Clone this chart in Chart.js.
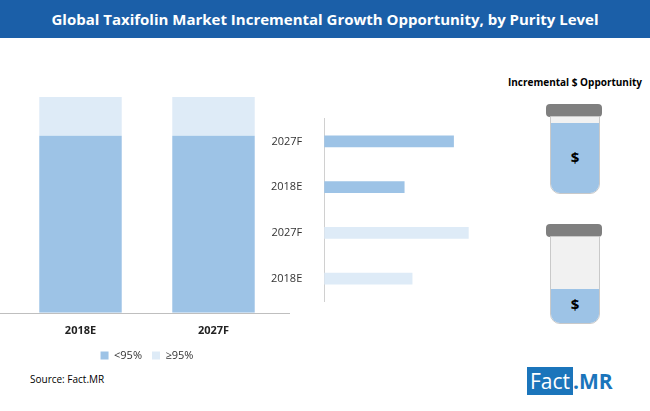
<!DOCTYPE html>
<html><head><meta charset="utf-8">
<script src="https://cdn.jsdelivr.net/npm/chart.js@4"></script>
<style>
body{margin:0;width:650px;height:411px;background:#fff;position:relative;overflow:hidden;font-family:"Open Sans",sans-serif}
#title{position:absolute;left:0;top:0;width:650px;height:38px;background:#1b5fa8;color:#fff;font:bold 15px "Open Sans",sans-serif;text-align:center;line-height:38px}
.abs{position:absolute}
.jar{position:absolute;left:550px;width:48px;border:1px solid #c9c9c9;border-radius:0 0 10px 10px;background:#f1f1f1;overflow:hidden}
.cap{position:absolute;left:546px;width:56px;height:13px;background:#7f7f7f;border-radius:4px}
.liq{position:absolute;left:0;bottom:0;width:100%;background:#9dc3e6}
.dol{position:absolute;left:0;width:100%;text-align:center;font:bold 15px "Open Sans",sans-serif;color:#000}
</style></head><body>
<div id="title">Global Taxifolin Market Incremental Growth Opportunity, by Purity Level</div>
<canvas id="c1" class="abs" style="left:0;top:88px;width:294px;height:283px" width="294" height="283"></canvas>
<canvas id="c2" class="abs" style="left:257px;top:98px;width:240px;height:224px" width="240" height="224"></canvas>
<div class="abs" style="left:505px;top:75px;width:140px;text-align:center;font:bold 10px 'Open Sans',sans-serif">Incremental $ Opportunity</div>
<div class="cap" style="top:104px"></div>
<div class="jar" style="top:116px;height:76px"><div class="liq" style="height:70px"></div><div class="dol" style="top:30px">$</div></div>
<div class="cap" style="top:224px"></div>
<div class="jar" style="top:236px;height:86px"><div class="liq" style="height:34px"></div><div class="dol" style="top:57px">$</div></div>
<div class="abs" style="left:30px;top:372px;font:10px 'Open Sans',sans-serif;color:#000">Source: Fact.MR</div>
<div class="abs" style="left:527px;top:367px;font:21px 'Open Sans',sans-serif"><span style="background:#1b75bb;color:#fff;padding:0 3px">Fact</span><span style="color:#1b75bb;font-weight:bold">.MR</span></div>
<script>
const categories=["2018E","2027F"];
const lowPurity=[82,82];
const highPurity=[18,18];
const seriesNames=["<95%","≥95%"];
const hbarLabels=["2027F","2018E","2027F","2018E"];
const hbarValues=[131,81,146,89];
const dark="#9dc3e6", light="#deebf7";
const hbarColors=[dark,dark,light,light];

const baseline={id:"baseline",afterDraw(c){const a=c.chartArea,x=c.ctx;x.save();x.strokeStyle="#bfbfbf";x.lineWidth=1;x.beginPath();x.moveTo(0,Math.round(a.bottom)+0.5);x.lineTo(a.right+10,Math.round(a.bottom)+0.5);x.stroke();x.restore();}};

new Chart(document.getElementById("c1"),{type:"bar",
data:{labels:categories,datasets:[
{label:seriesNames[0],data:lowPurity,backgroundColor:dark,barPercentage:0.62,categoryPercentage:1},
{label:seriesNames[1],data:highPurity,backgroundColor:light,barPercentage:0.62,categoryPercentage:1}]},
options:{responsive:false,animation:false,layout:{padding:{top:9,left:14,right:14}},
plugins:{legend:{position:"bottom",labels:{boxWidth:8,boxHeight:8,font:{size:11,family:"Open Sans"},color:"#333"}},tooltip:{enabled:false}},
scales:{x:{stacked:true,grid:{display:false},border:{display:false},ticks:{color:"#222",font:{size:11,weight:"bold",family:"Open Sans"}}},
y:{stacked:true,display:false,min:0,max:100}}},plugins:[baseline]});

new Chart(document.getElementById("c2"),{type:"bar",
data:{labels:hbarLabels,datasets:[{data:hbarValues,backgroundColor:hbarColors,barThickness:11}]},
options:{indexAxis:"y",responsive:false,animation:false,
plugins:{legend:{display:false},tooltip:{enabled:false}},
scales:{x:{display:false,min:0,max:175},
y:{grid:{display:false},border:{color:"#d0d0d0"},ticks:{color:"#333",font:{size:11,family:"Open Sans"},padding:14}}}}});
</script>
</body></html>
